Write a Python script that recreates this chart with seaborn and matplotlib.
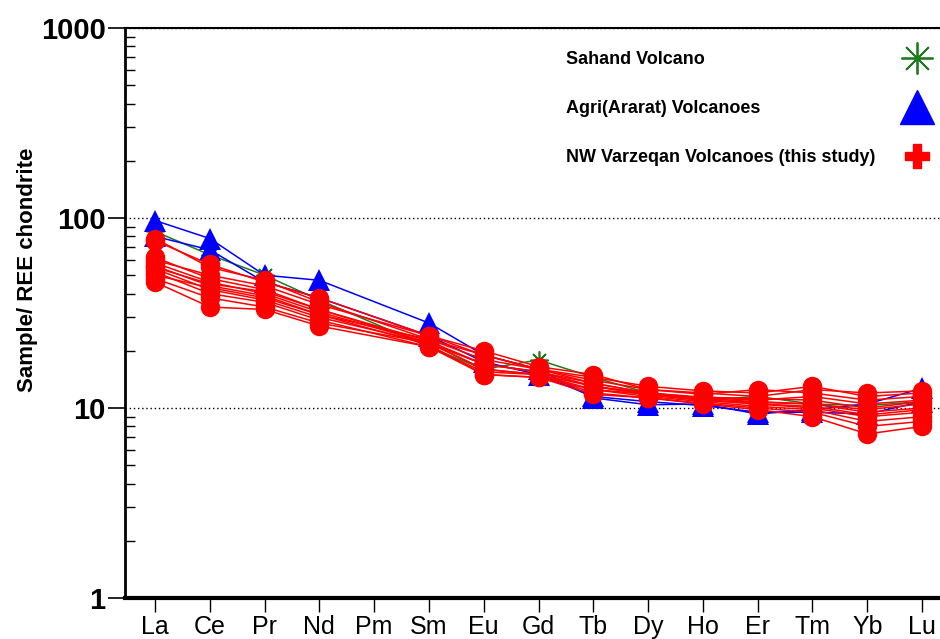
import numpy as np
import pandas as pd
import matplotlib
matplotlib.use("Agg")
import matplotlib.pyplot as plt
import seaborn as sns
from matplotlib.lines import Line2D

# ---------------- data ----------------
elements = ["La", "Ce", "Pr", "Nd", "Pm", "Sm", "Eu", "Gd", "Tb", "Dy", "Ho", "Er", "Tm", "Yb", "Lu"]

# Sahand Volcano (Pm not analysed -> None)
sahand = [85, 64, 50, 37, None, 21, 16, 17.9, 14.5, 12, 11, 11.5, 10.5, 10.3, 10.8]

# Agri (Ararat) Volcanoes
agri_1 = [97, 78, 50, 47, None, 28, 19, 16, 11.3, 10.4, 10.5, 9.3, 9.8, 10.5, 12.7]
agri_2 = [80, 68, 46, 38, None, 24, 17.5, 15, 11.5, 10.8, 10.3, 9.5, 9.5, 9.3, 10.8]

# NW Varzeqan Volcanoes (this study)
varz_1 = [78, 55, 47, 36, None, 23, 19, 16, 14.5, 13, 12.3, 12, 13, 11.5, 12]
varz_2 = [76, 57, 46, 38, None, 24, 20, 16.5, 15, 12.5, 12, 11.5, 12.5, 12, 12.3]
varz_3 = [62, 48, 42, 33, None, 22, 17, 15.5, 13.5, 12, 11.3, 11, 11.5, 10.5, 11]
varz_4 = [58, 46, 40, 32, None, 22, 16, 15, 13, 11.8, 11, 10.7, 10.5, 9.5, 10]
varz_5 = [56, 44, 39, 31, None, 21.5, 15, 14.5, 12.5, 11.5, 10.8, 10.2, 9.8, 8.5, 9]
varz_6 = [54, 42, 37, 30, None, 22, 17, 15.5, 13, 12, 11.2, 10.8, 10.5, 9.8, 10.5]
varz_7 = [52, 40, 36, 29, None, 21, 15.5, 15, 12, 11.3, 10.6, 10, 9.5, 8, 8.5]
varz_8 = [50, 43, 38, 31, None, 23, 18, 16, 14, 12.5, 11.8, 12.5, 12, 11, 11.5]
varz_9 = [48, 38, 34, 28, None, 22, 16, 15, 12.5, 11.8, 11, 10.5, 10, 9, 9.5]
varz_10 = [46, 34, 33, 27, None, 21, 15, 14.5, 11.8, 11.3, 10.5, 9.8, 9, 7.3, 8]
varz_11 = [60, 50, 44, 35, None, 24, 19, 16, 13.5, 12, 11.4, 11.2, 11, 10, 10.8]
varz_12 = [55, 45, 41, 33, None, 22.5, 17, 15.5, 13, 11.7, 11, 10.5, 10.2, 9.2, 9.8]

groups = {
    "Sahand Volcano": [sahand],
    "Agri(Ararat) Volcanoes": [agri_1, agri_2],
    "NW Varzeqan Volcanoes (this study)": [varz_1, varz_2, varz_3, varz_4, varz_5, varz_6,
                                           varz_7, varz_8, varz_9, varz_10, varz_11, varz_12],
}

rows = []
for g, samples in groups.items():
    for si, s in enumerate(samples):
        for i, v in enumerate(s):
            if v is not None:
                rows.append({"group": g, "sample": f"{g}-{si}", "pos": i, "value": v})
df = pd.DataFrame(rows)

# ---------------- style ----------------
sns.set_style("ticks")
plt.rcParams["font.family"] = ["Liberation Sans", "DejaVu Sans"]
for key in ["text.color", "axes.labelcolor", "xtick.color", "ytick.color", "axes.edgecolor"]:
    plt.rcParams[key] = "black"

fig = plt.figure(figsize=(9.4, 6.39), dpi=100)
W, H = 940, 639
ax_left, ax_right, ax_top, ax_bottom = 125, 960, 28, 598
ax = fig.add_axes([ax_left / W, 1 - ax_bottom / H, (ax_right - ax_left) / W, (ax_bottom - ax_top) / H])

styles = {
    "Sahand Volcano": dict(color="#1f7a1f", marker=(8, 2, 0), markersize=13, mew=1.2, mec="#1f7a1f", z=2),
    "Agri(Ararat) Volcanoes": dict(color="#0000ff", marker="^", markersize=16, mew=0, mec="#0000ff", z=3),
    "NW Varzeqan Volcanoes (this study)": dict(color="#ff0000", marker="o", markersize=14, mew=0, mec="#ff0000", z=4),
}

for g in groups:
    st = styles[g]
    sub = df[df["group"] == g]
    sns.lineplot(data=sub, x="pos", y="value", units="sample", estimator=None, sort=True,
                 color=st["color"], marker=st["marker"], markersize=st["markersize"],
                 markeredgewidth=st["mew"], markeredgecolor=st["mec"], linewidth=1.1,
                 legend=False, ax=ax, zorder=st["z"])

ax.set_yscale("log")
ax.set_ylim(1, 1000)
ax.set_xlim((ax_left - 155) / 54.79, (ax_right - 155) / 54.79)

ax.set_yticks([1, 10, 100, 1000])
ax.set_yticklabels(["1", "10", "100", "1000"], fontweight="bold", fontsize=21)
ax.set_xticks(range(len(elements)))
ax.set_xticklabels(elements, fontsize=18)

ax.tick_params(axis="y", which="major", direction="out", length=12, width=1.2, pad=2, colors="black")
ax.tick_params(axis="y", which="minor", direction="in", length=7, width=1.0, colors="black")
ax.tick_params(axis="x", which="major", direction="out", length=10, width=1.0, pad=2, colors="black")
ax.tick_params(axis="x", which="minor", bottom=False)

ax.grid(axis="y", which="major", linestyle=(0, (1, 2)), color="black", linewidth=1.0)
ax.grid(axis="x", visible=False)

for side, lw in [("bottom", 3), ("left", 2), ("top", 1.5), ("right", 1.5)]:
    ax.spines[side].set_linewidth(lw)
    ax.spines[side].set_color("black")

ax.set_xlabel("")
ax.set_ylabel("Sample/ REE chondrite", fontsize=16, fontweight="bold", color="black")
ax.yaxis.set_label_coords(-0.104, 0.575)

labels = list(groups.keys())
leg_font = dict(weight="bold", size=13)
leg_top = 1 - 51 / H
leg_kw = dict(frameon=False, prop=leg_font, labelspacing=1.77, borderpad=0, borderaxespad=0,
              labelcolor="black")

# legend text column (left-aligned)
blank = [Line2D([], [], linestyle="none") for _ in labels]
fig.legend(blank, labels, loc="upper left", bbox_to_anchor=(566 / W, leg_top),
           handlelength=0, handletextpad=0, **leg_kw)

# legend symbol column
handles = [
    Line2D([], [], linestyle="none", marker=(8, 2, 0), markersize=23, mew=1.3, color="#1f7a1f"),
    Line2D([], [], linestyle="none", marker="^", markersize=24, color="#0000ff"),
    Line2D([], [], linestyle="none", marker="P", markersize=17, color="#ff0000"),
]
fig.legend(handles, [""] * len(labels), loc="upper center", bbox_to_anchor=(917 / W, leg_top),
           handlelength=1.0, handletextpad=0, **leg_kw)

fig.savefig("out.png", dpi=100)
